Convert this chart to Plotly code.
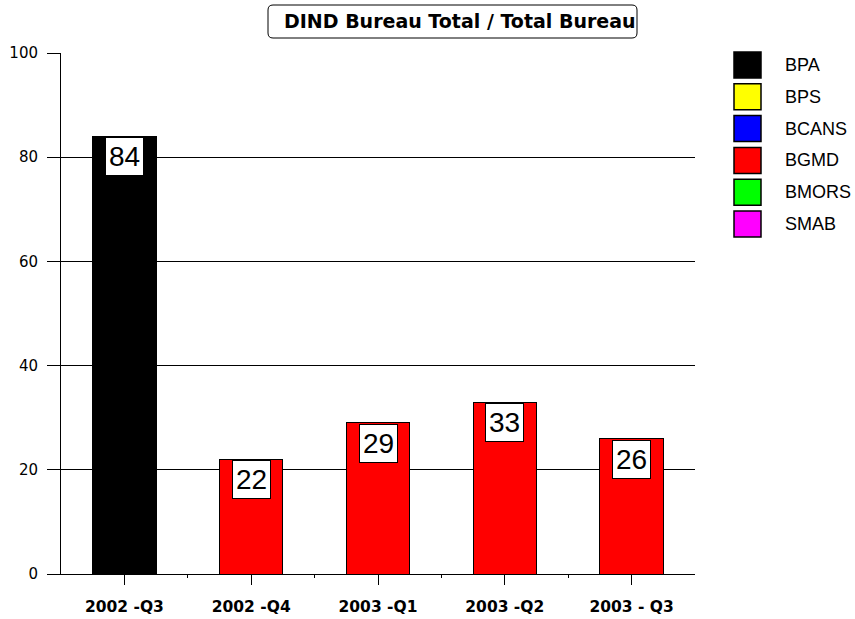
import plotly.graph_objects as go

categories = ["2002 -Q3", "2002 -Q4", "2003 -Q1", "2003 -Q2", "2003 - Q3"]
series_names = ["BPA", "BPS", "BCANS", "BGMD", "BMORS", "SMAB"]
series_colors = ["#000000", "#ffff00", "#0000ff", "#ff0000", "#00ff00", "#ff00ff"]
BPA = [84, None, None, None, None]
BPS = [None, None, None, None, None]
BCANS = [None, None, None, None, None]
BGMD = [None, 22, 29, 33, 26]
BMORS = [None, None, None, None, None]
SMAB = [None, None, None, None, None]
series_values = [BPA, BPS, BCANS, BGMD, BMORS, SMAB]
totals = [84, 22, 29, 33, 26]
y_ticks = [0, 20, 40, 60, 80, 100]
title_text = "DIND Bureau Total / Total Bureau"

FONT = "Liberation Sans, Arial, sans-serif"
DJ = "DejaVu Sans, sans-serif"

# pixel frame of the plot area
PL, PR, PT, PB = 61, 695, 53, 574
W, H = 855, 619


def px(x):
    return (x - PL) / (PR - PL)


def py(y):
    return (PB - y) / (PB - PT)


fig = go.Figure()
for name, color, vals in zip(series_names, series_colors, series_values):
    fig.add_trace(go.Bar(
        x=categories, y=[v if v is not None else 0 for v in vals], name=name,
        marker=dict(color=color, line=dict(color="#000000", width=1)),
        showlegend=False, hoverinfo="x+y+name",
    ))

# helper axis for the small ticks between categories
fig.add_trace(go.Scatter(x=[None], y=[None], xaxis="x2", yaxis="y", showlegend=False))

for c, t in zip(categories, totals):
    fig.add_annotation(
        x=c, y=t, xref="x", yref="y", yanchor="top", yshift=-1,
        text=str(t), showarrow=False,
        font=dict(family=FONT, size=28, color="#000000"),
        bgcolor="#ffffff", bordercolor="#000000", borderwidth=1, borderpad=3,
    )

# title box (rounded rectangle) and text
x0, x1, y0, y1, r = px(268), px(637), py(5), py(38), 5
rx = r / (PR - PL)
ry = r / (PB - PT)
path = (f"M {x0+rx},{y0} L {x1-rx},{y0} Q {x1},{y0} {x1},{y0-ry} "
        f"L {x1},{y1+ry} Q {x1},{y1} {x1-rx},{y1} L {x0+rx},{y1} "
        f"Q {x0},{y1} {x0},{y1+ry} L {x0},{y0-ry} Q {x0},{y0} {x0+rx},{y0} Z")
fig.add_shape(type="path", path=path, xref="paper", yref="paper",
              line=dict(color="#000000", width=1), fillcolor="#ffffff", layer="below")
fig.add_annotation(
    x=px(282), y=py(21.5), xref="paper", yref="paper", xanchor="left", yanchor="middle",
    showarrow=False, text=f"<b>{title_text}</b>",
    font=dict(family=DJ, size=19, color="#000000"),
)

# legend drawn from the series lists
for i, (name, color) in enumerate(zip(series_names, series_colors)):
    top = 52 + i * 31.8
    fig.add_shape(type="rect", xref="paper", yref="paper",
                  x0=px(734), x1=px(761), y0=py(top), y1=py(top + 26),
                  fillcolor=color, line=dict(color="#000000", width=1.5))
    fig.add_annotation(x=px(783), y=py(top + 13), xref="paper", yref="paper",
                       xanchor="left", yanchor="middle", showarrow=False,
                       text=name, font=dict(family=FONT, size=18, color="#000000"))

fig.update_layout(
    width=W, height=H,
    margin=dict(l=PL, r=W - PR, t=PT, b=H - PB, autoexpand=False),
    paper_bgcolor="#ffffff", plot_bgcolor="#ffffff",
    barmode="stack", bargap=0.5, showlegend=False,
    font=dict(family=FONT, size=14, color="#000000"),
    xaxis=dict(showline=True, linecolor="#000000", linewidth=1, automargin=False,
               ticks="outside", ticklen=10, tickcolor="#000000", tickwidth=1,
               tickfont=dict(family=DJ, size=15.5, color="#000000", weight="bold"),
               ticklabelstandoff=8, showgrid=False),
    xaxis2=dict(overlaying="x", range=[-0.5, 4.5], side="bottom", automargin=False,
                tickvals=[0.5, 1.5, 2.5, 3.5], ticks="outside", ticklen=3,
                tickcolor="#000000", showticklabels=False, showgrid=False,
                zeroline=False, showline=False),
    yaxis=dict(range=[0, 100], tickvals=y_ticks, showgrid=True, gridcolor="#000000",
               gridwidth=1, showline=True, linecolor="#000000", linewidth=1,
               automargin=False, ticks="outside", ticklen=13, tickcolor="#000000",
               tickfont=dict(family=DJ, size=15, color="#000000"),
               ticklabelstandoff=6, zeroline=False),
)

fig.write_html("out.html", config={"displayModeBar": False},
               post_script="document.body.style.margin='0';")
